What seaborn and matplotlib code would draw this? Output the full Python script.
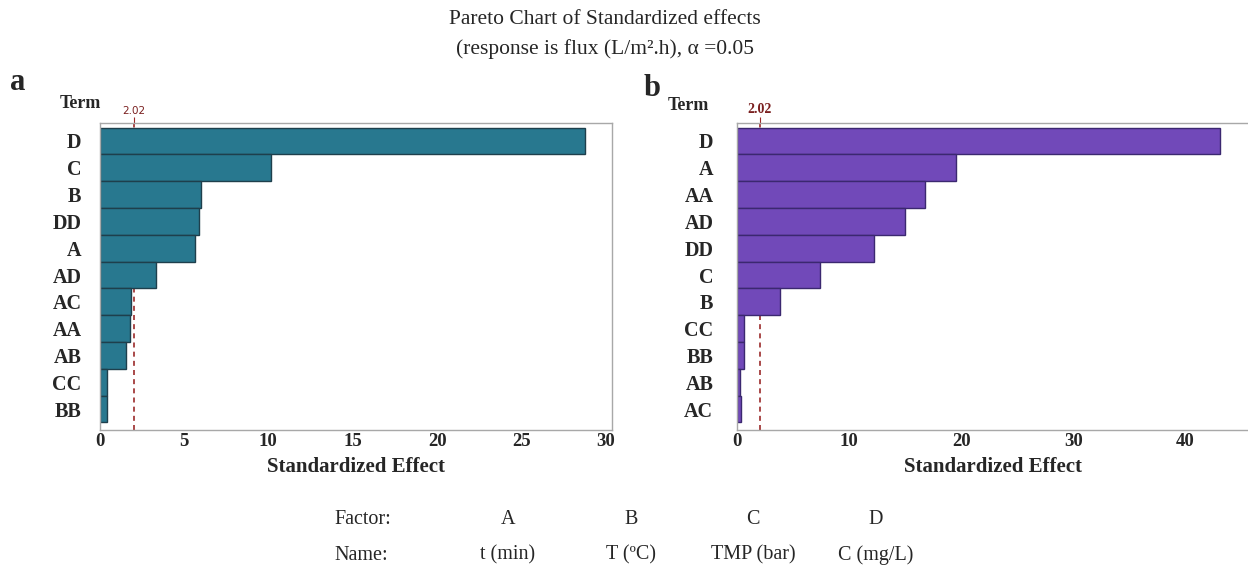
import matplotlib
matplotlib.use("Agg")
import matplotlib.pyplot as plt
import seaborn as sns
import pandas as pd

# ---- data ----
terms_a = ["D", "C", "B", "DD", "A", "AD", "AC", "AA", "AB", "CC", "BB"]
effects_a = [28.75, 10.13, 6.01, 5.89, 5.63, 3.32, 1.84, 1.79, 1.55, 0.47, 0.42]
terms_b = ["D", "A", "AA", "AD", "DD", "C", "B", "CC", "BB", "AB", "AC"]
effects_b = [43.1, 19.5, 16.8, 15.0, 12.2, 7.43, 3.82, 0.64, 0.66, 0.28, 0.34]
critical = 2.02
factors = ["A", "B", "C", "D"]
names = ["t (min)", "T (ºC)", "TMP (bar)", "C (mg/L)"]

sns.set_style("white")
plt.rcParams["font.family"] = ["Liberation Serif", "DejaVu Serif"]

fig = plt.figure(figsize=(12.48, 5.69), dpi=100)

W, H = 1248, 569
ax_top, ax_bot = 123, 430

def panel(left_px, right_px, terms, effects, color, edge, xmax, xticks, label_bold, ypad):
    rect = [left_px / W, 1 - ax_bot / H, (right_px - left_px) / W, (ax_bot - ax_top) / H]
    ax = fig.add_axes(rect)
    df = pd.DataFrame({"Term": terms, "Effect": effects})
    sns.barplot(data=df, x="Effect", y="Term", orient="h", color=color,
                width=1.0, edgecolor=edge, linewidth=1.0, saturation=1,
                ax=ax, zorder=2)
    ax.axvline(critical, color="#9b2a2a", ls=(0, (3, 2.5)), lw=1.2, zorder=1)
    ax.set_xlim(0, xmax)
    ax.set_ylim(len(terms) - 1 + 0.78, -0.67)
    ax.set_xticks(xticks)
    ax.set_xticklabels([str(t) for t in xticks], fontsize=13.5, fontweight="bold")
    ax.set_yticks(range(len(terms)))
    ax.set_yticklabels(terms, fontsize=14.5, fontweight="bold")
    ax.set_ylabel("")
    ax.set_xlabel("Standardized Effect", fontsize=15, fontweight="bold", labelpad=5)
    for s in ax.spines.values():
        s.set_color("#a8a8a8")
        s.set_linewidth(1.0)
    ax.tick_params(axis="both", which="both", direction="out", length=3,
                   color="#a8a8a8", width=0.8)
    ax.tick_params(axis="y", pad=ypad)
    ax.tick_params(axis="x", length=2, pad=0)
    sec = ax.secondary_xaxis("top")
    sec.set_xticks([critical])
    if label_bold:
        sec.set_xticklabels(["2.02"], fontsize=10, fontweight="bold", color="#7a1f1f")
    else:
        sec.set_xticklabels(["2.02"], fontsize=7.5, color="#7a1f1f", family="DejaVu Sans")
    sec.tick_params(axis="x", length=4, color="#9b2a2a", pad=1)
    sec.spines["top"].set_visible(False)
    return ax

axa = panel(99.5, 612, terms_a, effects_a, "#28788f", "#1e3f4c",
            30.35, [0, 5, 10, 15, 20, 25, 30], False, 10)
axb = panel(737, 1248, terms_b, effects_b, "#7149b9", "#3b2870",
            45.6, [0, 10, 20, 30, 40], True, 14)
axb.spines["right"].set_visible(False)

# titles and labels
fig.text(0.485, 1 - 19 / H, "Pareto Chart of Standardized effects",
         ha="center", va="center", fontsize=15.5)
fig.text(0.485, 1 - 49 / H, "(response is flux (L/m².h), α =0.05",
         ha="center", va="center", fontsize=15.5)
fig.text(18 / W, 1 - 82 / H, "a", ha="center", va="center",
         fontsize=22, fontweight="bold")
fig.text(652 / W, 1 - 88 / H, "b", ha="center", va="center",
         fontsize=22, fontweight="bold")
fig.text(80 / W, 1 - 104 / H, "Term", ha="center", va="center",
         fontsize=13, fontweight="bold")
fig.text(688 / W, 1 - 105 / H, "Term", ha="center", va="center",
         fontsize=13, fontweight="bold")

# factor table
fig.text(334 / W, 1 - 519 / H, "Factor:", ha="left", va="center", fontsize=14.5)
fig.text(334 / W, 1 - 555 / H, "Name:", ha="left", va="center", fontsize=14.5)
xs = [508, 631, 753, 876]
for f, n, x in zip(factors, names, xs):
    fig.text(x / W, 1 - 519 / H, f, ha="center", va="center", fontsize=14.5)
    fig.text(x / W, 1 - 555 / H, n, ha="center", va="center", fontsize=14.5)

fig.savefig("out.png", dpi=100)
